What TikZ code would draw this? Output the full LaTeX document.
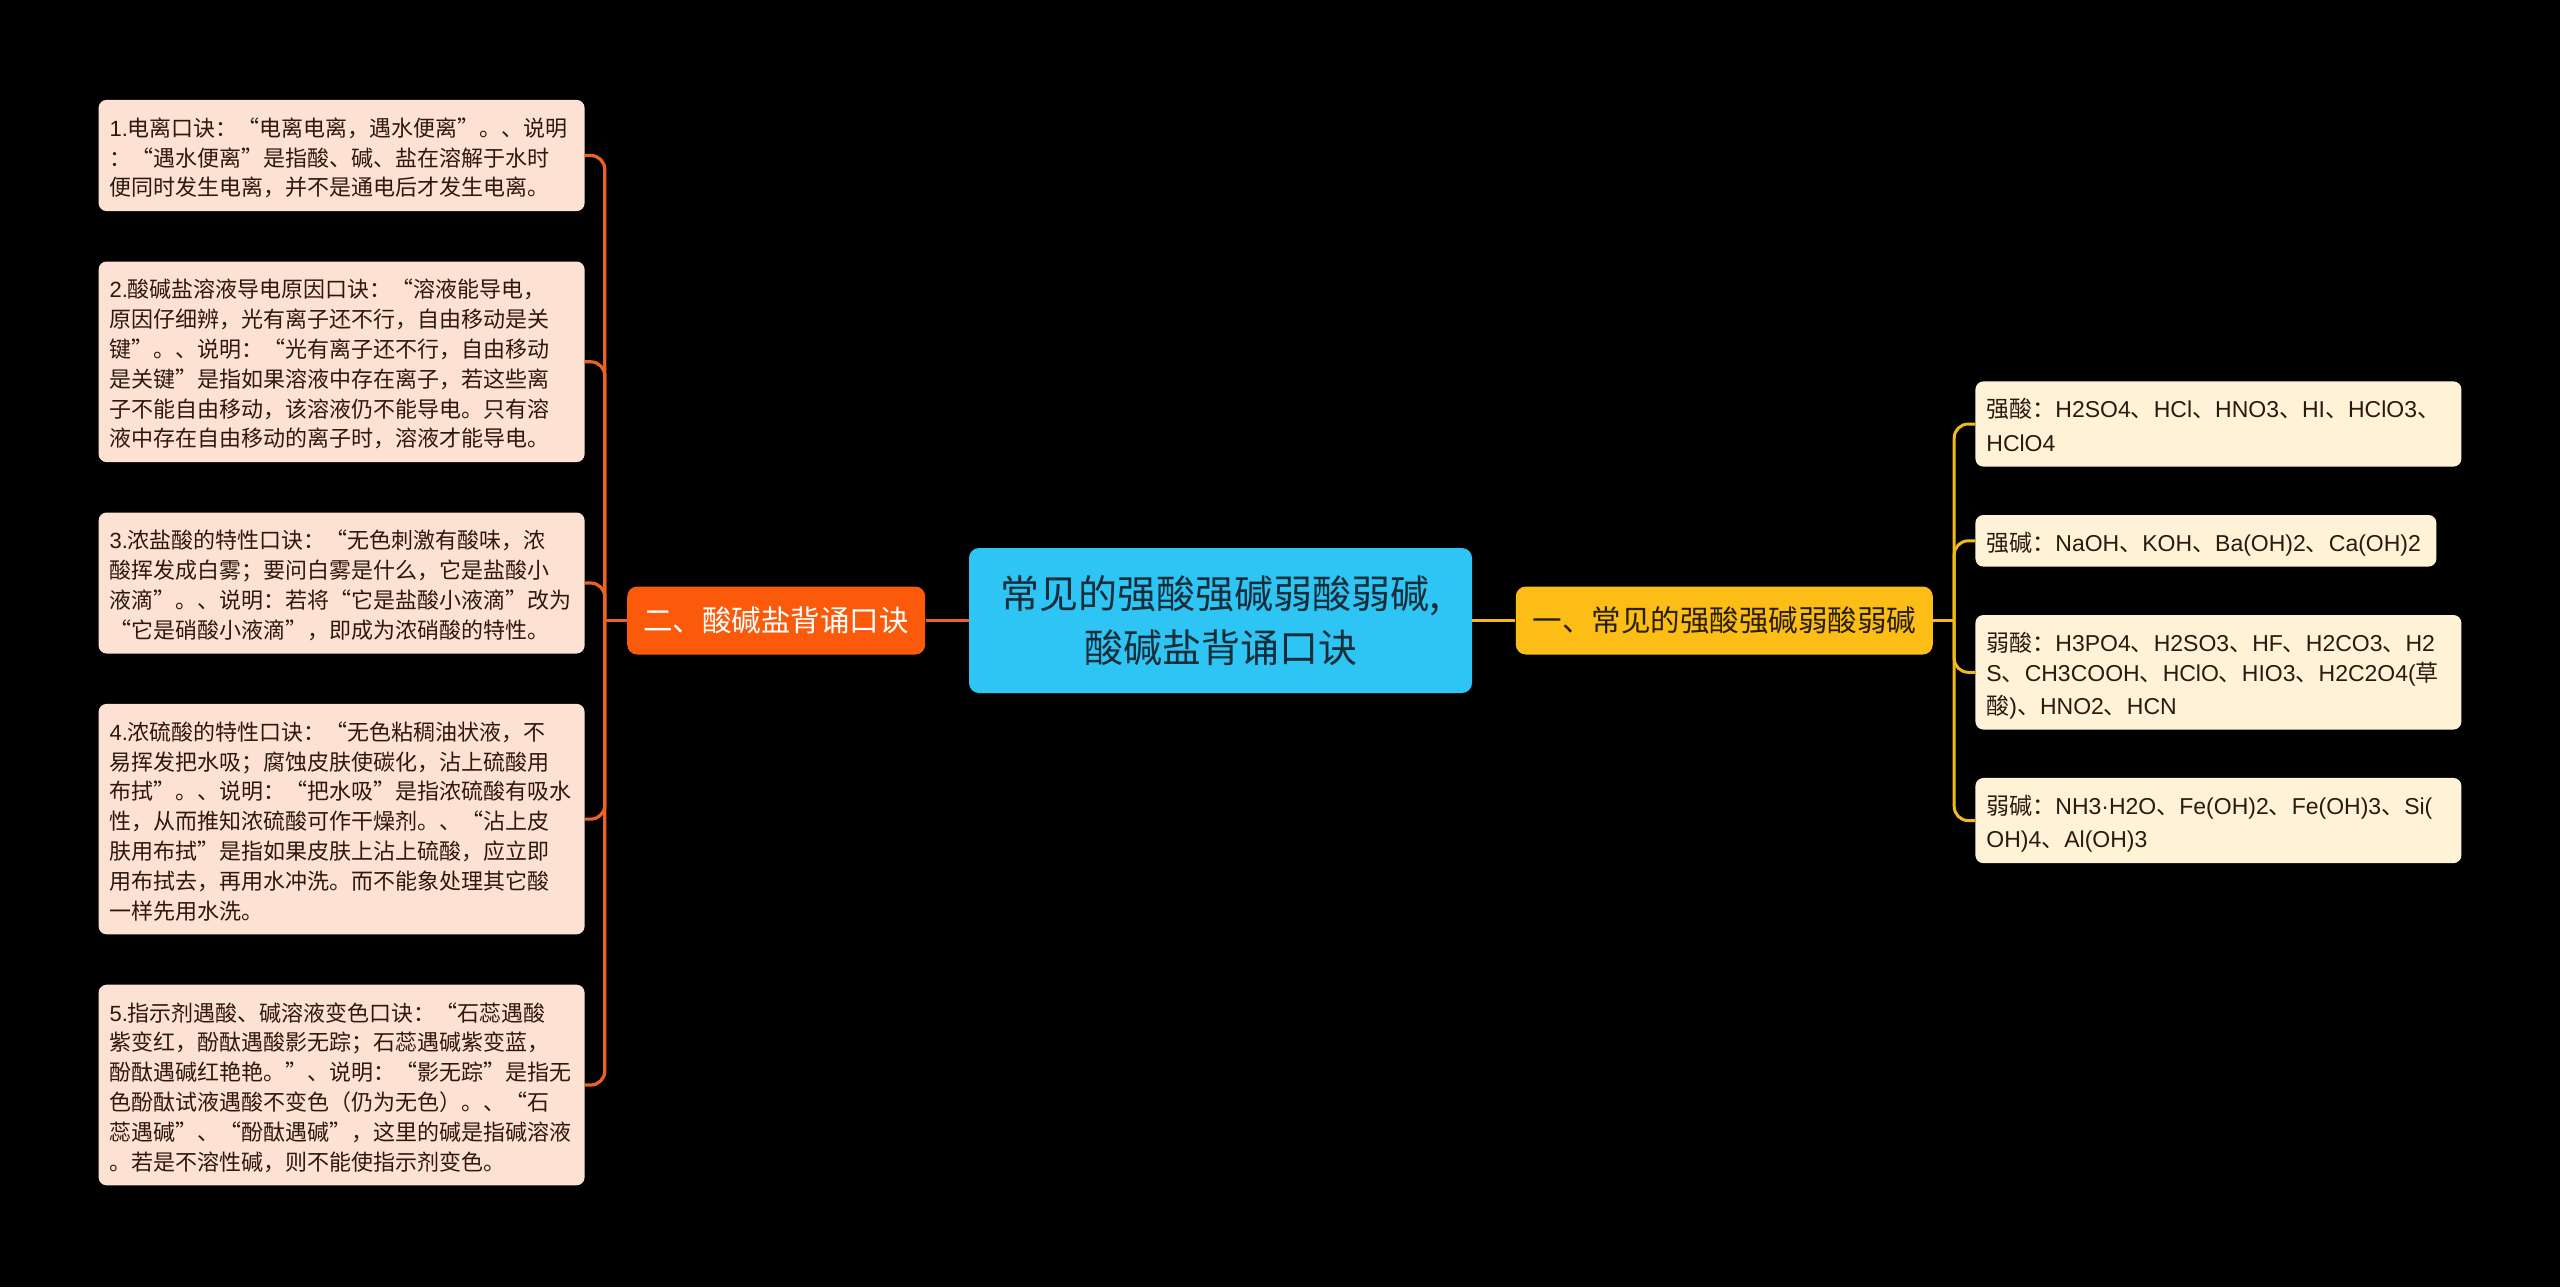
\documentclass[tikz,border=0pt]{standalone}
\usepackage{fontspec}
\setmainfont{Noto Sans CJK SC}
\newfontfamily\cjkfont{Noto Sans CJK SC}
\newfontfamily\latfont{Liberation Sans}
\usetikzlibrary{positioning}

% Latin runs in Liberation Sans, everything else in Noto Sans CJK
\newXeTeXintercharclass\latclass
\newcount\latc
\newcommand\setlat[2]{\latc=#1\relax
  \loop\XeTeXcharclass\latc=\latclass
  \ifnum\latc<#2\relax\advance\latc by 1\repeat}
\setlat{`0}{`9}\setlat{`A}{`Z}\setlat{`a}{`z}
\XeTeXcharclass`(=\latclass \XeTeXcharclass`)=\latclass
\XeTeXcharclass`.=\latclass \XeTeXcharclass"00B7=\latclass
\latc=0
\loop
  \ifnum\latc=\latclass\else
    \XeTeXinterchartoks\latc\latclass={\latfont}%
    \XeTeXinterchartoks\latclass\latc={\cjkfont}%
  \fi
  \ifnum\latc<255 \advance\latc by 1 \repeat
\XeTeXinterchartoks 4095 \latclass={\latfont}
\XeTeXinterchartoks \latclass 4095={\cjkfont}
\XeTeXinterchartokenstate=1

\definecolor{rootblue}{RGB}{46,196,243}
\definecolor{rootink}{RGB}{22,46,58}
\definecolor{brorange}{RGB}{250,90,10}
\definecolor{bryellow}{RGB}{252,190,22}
\definecolor{brink}{RGB}{40,30,0}
\definecolor{leafpeach}{RGB}{253,226,211}
\definecolor{leafcream}{RGB}{254,243,214}
\definecolor{leafink}{RGB}{45,25,15}
\definecolor{lineorange}{RGB}{236,98,34}
\definecolor{lineyellow}{RGB}{242,186,24}

\newcommand\lstrut{\rule[-2.6pt]{0pt}{15.8pt}}

\begin{document}
\XeTeXinterchartokenstate=1
\begin{tikzpicture}[x=0.5pt, y=-0.5pt,
  root/.style={fill=rootblue, rounded corners=5pt, minimum width=251.5pt,
               minimum height=72.5pt, align=center, text=rootink,
               font=\fontsize{19.5pt}{27pt}\selectfont},
  branchl/.style={fill=brorange, rounded corners=5pt, minimum width=149pt,
                  minimum height=34pt, text=white,
                  font=\fontsize{14.75pt}{18pt}\selectfont},
  branchr/.style={branchl, fill=bryellow, minimum width=208.5pt, text=brink},
  leafl/.style={fill=leafpeach, rounded corners=4pt, text width=232pt,
                align=left, inner xsep=5.5pt, inner ysep=5pt, text=leafink,
                font=\fontsize{11pt}{14.9pt}\selectfont,
                execute at begin node=\lstrut, execute at end node=\lstrut},
  leafr/.style={leafl, fill=leafcream, font=\fontsize{11.5pt}{14.9pt}\selectfont},
  lline/.style={draw=lineorange, line width=1.6pt},
  rline/.style={draw=lineyellow, line width=1.5pt}
]
\useasboundingbox (0,0) rectangle (2560,1287);
\fill[black] (0,0) rectangle (2560,1287);
% --- centre and the two branches ---
\node[root] (root) at (1220.5,620.5) {常见的强酸强碱弱酸弱碱,\\酸碱盐背诵口诀};
\node[branchl, left=21.5pt of root] (b2) {二、酸碱盐背诵口诀};
\node[branchr, right=21.5pt of root] (b1) {一、常见的强酸强碱弱酸弱碱};
% --- left leaves ---
\node[leafl, anchor=north east] (l1) at (585,99.5) {1.电离口诀：“电离电离，遇水便离”。、说明\\：“遇水便离”是指酸、碱、盐在溶解于水时\\便同时发生电离，并不是通电后才发生电离。};
\node[leafl, below=24.8pt of l1] (l2) {2.酸碱盐溶液导电原因口诀：“溶液能导电，\\原因仔细辨，光有离子还不行，自由移动是关\\键”。、说明：“光有离子还不行，自由移动\\是关键”是指如果溶液中存在离子，若这些离\\子不能自由移动，该溶液仍不能导电。只有溶\\液中存在自由移动的离子时，溶液才能导电。};
\node[leafl, below=24.8pt of l2] (l3) {3.浓盐酸的特性口诀：“无色刺激有酸味，浓\\酸挥发成白雾；要问白雾是什么，它是盐酸小\\液滴”。、说明：若将“它是盐酸小液滴”改为\\“它是硝酸小液滴”，即成为浓硝酸的特性。};
\node[leafl, below=24.8pt of l3] (l4) {4.浓硫酸的特性口诀：“无色粘稠油状液，不\\易挥发把水吸；腐蚀皮肤使碳化，沾上硫酸用\\布拭”。、说明：“把水吸”是指浓硫酸有吸水\\性，从而推知浓硫酸可作干燥剂。、“沾上皮\\肤用布拭”是指如果皮肤上沾上硫酸，应立即\\用布拭去，再用水冲洗。而不能象处理其它酸\\一样先用水洗。};
\node[leafl, below=24.8pt of l4] (l5) {5.指示剂遇酸、碱溶液变色口诀：“石蕊遇酸\\紫变红，酚酞遇酸影无踪；石蕊遇碱紫变蓝，\\酚酞遇碱红艳艳。”、说明：“影无踪”是指无\\色酚酞试液遇酸不变色（仍为无色）。、“石\\蕊遇碱”、“酚酞遇碱”，这里的碱是指碱溶液\\。若是不溶性碱，则不能使指示剂变色。};
% --- right leaves ---
\node[leafr, anchor=north west] (r1) at (1975,381) {强酸：H2SO4、HCl、HNO3、HI、HClO3、\\HClO4};
\node[leafr, text width=219.5pt, below right=23.8pt and 0pt of r1.south west] (r2) {强碱：NaOH、KOH、Ba(OH)2、Ca(OH)2};
\node[leafr, below right=23.8pt and 0pt of r2.south west] (r3) {弱酸：H3PO4、H2SO3、HF、H2CO3、H2\\S、CH3COOH、HClO、HIO3、H2C2O4(草\\酸)、HNO2、HCN};
\node[leafr, below right=23.8pt and 0pt of r3.south west] (r4) {弱碱：NH3·H2O、Fe(OH)2、Fe(OH)3、Si(\\OH)4、Al(OH)3};
% --- connectors ---
\coordinate (lsp) at ([xshift=-11pt]b2.west);
\coordinate (rsp) at ([xshift=10.5pt]b1.east);
\draw[lline] (b2.east) -- (root.west);
\draw[rline] (root.east) -- (b1.west);
\draw[lline] (b2.west) -- (lsp);
\draw[rline] (b1.east) -- (rsp);
\foreach \n in {l1,l2,l3,l4,l5}
  \draw[lline, rounded corners=7pt] (lsp) |- (\n.east);
\foreach \n in {r1,r2,r3,r4}
  \draw[rline, rounded corners=7pt] (rsp) |- (\n.west);
\end{tikzpicture}
\end{document}
